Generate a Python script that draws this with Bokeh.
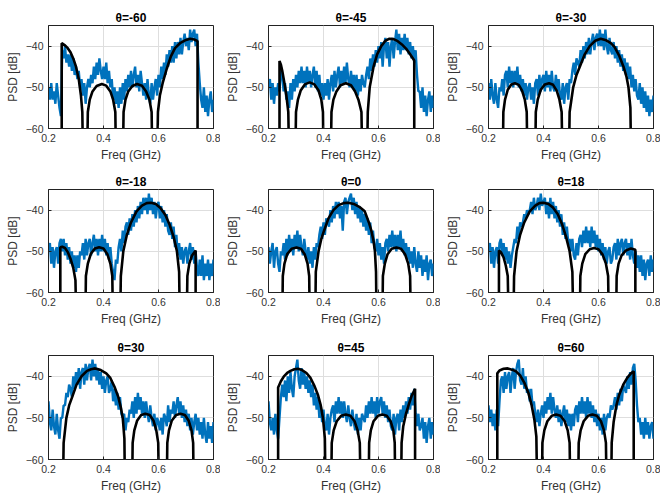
import numpy as np
from bokeh.plotting import figure
from bokeh.layouts import gridplot
from bokeh.models import Range1d, FixedTicker
from bokeh.embed import file_html
from bokeh.resources import INLINE

angles = ["-60", "-45", "-30", "-18", "0", "18", "30", "45", "60"]
x_ticks = [0.2, 0.4, 0.6, 0.8]
y_ticks = [-60, -50, -40]

# measured PSD sampled every 5 MHz from 0.2 to 0.8 GHz
meas_freq = np.round(np.linspace(0.2, 0.8, 121), 3)

meas_m60 = [-50, -53, -49, -53, -51, -54, -49, -52, -55, -57,
            -41, -43, -40, -44, -42, -45, -42, -46, -43, -47,
            -45, -48, -46, -50, -48, -52, -49, -54, -50, -48,
            -50, -47, -49, -45, -48, -44, -47, -43, -46, -48,
            -45, -48, -44, -49, -46, -50, -48, -53, -50, -54,
            -51, -55, -50, -54, -49, -53, -48, -51, -47, -50,
            -46, -50, -47, -45, -50, -47, -51, -46, -49, -52,
            -49, -53, -48, -52, -54, -49, -53, -50, -48, -52,
            -47, -50, -45, -48, -44, -47, -42, -45, -41, -44,
            -40, -44, -39, -43, -39, -42, -38, -42, -39, -37,
            -40, -38, -41, -36, -39, -37, -36, -40, -37, -44,
            -49, -53, -55, -50, -56, -52, -57, -53, -51, -56, -53]
meas_m45 = [-50, -48, -53, -49, -54, -50, -52, -49, -51, -46,
            -47, -51, -49, -53, -51, -55, -49, -53, -48, -51,
            -47, -50, -46, -49, -45, -49, -46, -50, -45, -49,
            -46, -50, -47, -45, -50, -46, -51, -47, -52, -49,
            -53, -49, -52, -48, -53, -49, -47, -51, -46, -50,
            -47, -45, -50, -46, -49, -45, -49, -44, -48, -50,
            -46, -50, -47, -51, -47, -52, -48, -51, -47, -49,
            -50, -47, -45, -48, -43, -46, -42, -45, -41, -44,
            -40, -43, -39, -45, -40, -38, -43, -39, -45, -40,
            -38, -43, -39, -36, -41, -37, -42, -38, -41, -37,
            -41, -38, -42, -39, -43, -40, -44, -41, -47, -51,
            -51, -55, -50, -56, -52, -57, -53, -51, -56, -52, -55]
meas_m30 = [-49, -53, -48, -52, -54, -49, -53, -55, -50, -51,
            -48, -52, -47, -46, -50, -45, -49, -46, -50, -46,
            -49, -45, -50, -47, -51, -48, -52, -49, -53, -50,
            -49, -53, -50, -54, -49, -48, -52, -47, -51, -48,
            -47, -51, -46, -50, -47, -51, -46, -50, -51, -47,
            -51, -48, -52, -53, -49, -54, -50, -49, -53, -48,
            -49, -46, -44, -47, -43, -44, -45, -41, -44, -40,
            -43, -39, -42, -38, -42, -39, -37, -41, -38, -37,
            -40, -36, -40, -37, -41, -36, -40, -42, -38, -41,
            -42, -39, -43, -40, -44, -41, -45, -42, -46, -43,
            -47, -44, -48, -45, -50, -47, -51, -48, -52, -53,
            -49, -54, -50, -55, -51, -56, -52, -57, -53, -56, -52]
meas_m18 = [-50, -48, -53, -49, -54, -50, -49, -53, -48, -47,
            -50, -47, -51, -48, -52, -49, -53, -50, -54, -51,
            -55, -51, -54, -50, -51, -48, -52, -47, -51, -48,
            -47, -51, -48, -46, -50, -47, -51, -47, -50, -46,
            -50, -47, -51, -48, -52, -49, -53, -55, -57, -52,
            -53, -49, -47, -50, -45, -48, -44, -43, -46, -42,
            -45, -41, -44, -40, -43, -39, -42, -38, -41, -37,
            -40, -37, -41, -36, -40, -37, -41, -38, -42, -39,
            -38, -42, -39, -43, -40, -44, -41, -45, -46, -43,
            -47, -44, -49, -46, -51, -48, -52, -49, -53, -50,
            -49, -53, -50, -48, -52, -49, -53, -50, -54, -56,
            -52, -56, -51, -57, -53, -56, -52, -57, -53, -56, -52]
meas_0 = [-49, -53, -50, -48, -54, -50, -49, -53, -55, -50,
          -51, -48, -52, -47, -51, -46, -50, -47, -51, -46,
          -49, -45, -50, -46, -49, -51, -47, -50, -52, -49,
          -53, -50, -54, -49, -52, -48, -49, -46, -44, -47,
          -43, -46, -42, -43, -44, -40, -43, -39, -42, -38,
          -41, -38, -42, -39, -45, -38, -37, -41, -38, -37,
          -36, -40, -37, -41, -38, -42, -39, -43, -40, -44,
          -41, -45, -42, -46, -43, -48, -45, -49, -50, -47,
          -51, -48, -52, -49, -53, -48, -47, -50, -46, -49,
          -45, -49, -46, -50, -46, -49, -45, -50, -47, -51,
          -48, -52, -49, -53, -50, -54, -49, -53, -55, -50,
          -54, -51, -56, -52, -55, -51, -57, -53, -52, -56, -53]
meas_18 = [-50, -48, -53, -49, -54, -50, -49, -53, -48, -47,
           -51, -48, -52, -49, -53, -50, -54, -51, -49, -47,
           -48, -44, -47, -43, -44, -43, -41, -42, -40, -41,
           -40, -38, -41, -37, -40, -39, -37, -40, -36, -39,
           -38, -37, -41, -38, -42, -37, -41, -38, -42, -39,
           -43, -40, -44, -41, -46, -43, -47, -44, -48, -47,
           -50, -47, -51, -52, -48, -51, -47, -46, -49, -45,
           -48, -44, -48, -45, -49, -44, -48, -45, -49, -46,
           -50, -47, -51, -48, -52, -49, -53, -50, -49, -53,
           -52, -49, -48, -52, -47, -51, -48, -47, -51, -48,
           -47, -51, -48, -52, -47, -51, -53, -50, -54, -51,
           -55, -51, -56, -52, -57, -53, -52, -56, -51, -55, -52]
meas_30 = [-46, -51, -53, -48, -52, -54, -49, -53, -55, -50,
           -50, -47, -47, -44, -45, -42, -43, -45, -40, -43,
           -39, -42, -38, -43, -39, -38, -42, -37, -41, -38,
           -37, -41, -36, -40, -37, -41, -38, -42, -39, -43,
           -40, -44, -41, -40, -44, -43, -41, -46, -43, -47,
           -44, -48, -45, -49, -50, -49, -53, -50, -51, -48,
           -49, -46, -50, -45, -49, -44, -48, -45, -49, -46,
           -50, -46, -49, -51, -47, -50, -52, -49, -53, -50,
           -51, -53, -50, -54, -49, -50, -52, -47, -51, -48,
           -49, -46, -50, -47, -45, -49, -46, -50, -47, -51,
           -48, -52, -49, -53, -50, -54, -51, -49, -53, -50,
           -54, -51, -55, -50, -54, -56, -51, -55, -52, -56, -51]
meas_45 = [-46, -51, -53, -50, -54, -49, -53, -55, -50, -45,
           -42, -45, -41, -46, -40, -44, -39, -43, -45, -40,
           -38, -36, -41, -43, -38, -42, -39, -43, -40, -44,
           -41, -45, -42, -47, -44, -48, -45, -50, -47, -51,
           -48, -52, -53, -49, -54, -50, -48, -47, -51, -46,
           -49, -45, -49, -46, -50, -46, -49, -51, -47, -50,
           -52, -48, -51, -53, -49, -54, -50, -53, -49, -50,
           -51, -47, -50, -46, -49, -45, -49, -46, -50, -45,
           -49, -46, -45, -49, -46, -50, -47, -51, -48, -52,
           -53, -49, -54, -50, -49, -53, -48, -51, -47, -50,
           -46, -49, -45, -48, -44, -47, -43, -49, -52, -49,
           -53, -52, -50, -55, -51, -56, -52, -50, -55, -51, -54]
meas_60 = [-47, -51, -48, -52, -49, -53, -48, -52, -46, -41,
           -40, -44, -39, -43, -40, -39, -44, -40, -38, -43,
           -39, -37, -36, -41, -42, -38, -43, -40, -44, -43,
           -46, -43, -47, -46, -49, -51, -48, -52, -49, -47,
           -50, -46, -49, -45, -48, -44, -49, -45, -48, -50,
           -47, -51, -48, -52, -49, -47, -51, -48, -52, -49,
           -53, -49, -52, -48, -47, -51, -46, -49, -45, -49,
           -46, -50, -45, -49, -46, -50, -47, -51, -48, -52,
           -49, -53, -50, -54, -49, -53, -50, -49, -50, -47,
           -48, -47, -45, -48, -44, -47, -43, -46, -42, -43,
           -44, -40, -43, -39, -42, -38, -37, -41, -47, -51,
           -50, -54, -51, -55, -50, -54, -51, -55, -52, -51, -55]

# theoretical PSD (freq GHz, dB); -80 marks a null below the axis
theo_m60 = [(0.248, -80), (0.248, -39.3), (0.26, -39.8), (0.27, -40.5), (0.28, -41.5), (0.29, -43),
            (0.30, -45), (0.31, -48), (0.318, -52), (0.323, -56), (0.328, -80),
            (0.338, -80), (0.343, -56), (0.35, -53), (0.36, -51), (0.375, -49.7), (0.394, -49.2),
            (0.41, -49.6), (0.425, -51), (0.435, -53), (0.443, -56), (0.448, -80),
            (0.468, -80), (0.473, -56), (0.48, -53), (0.49, -51), (0.505, -49.7), (0.522, -49.2),
            (0.54, -49.6), (0.555, -51), (0.567, -53), (0.575, -56), (0.58, -80),
            (0.592, -80), (0.598, -56), (0.605, -52), (0.615, -49), (0.63, -45.5), (0.645, -42.5),
            (0.66, -40.5), (0.68, -39.2), (0.70, -38.5), (0.715, -38.2), (0.73, -38.4),
            (0.742, -38.8), (0.742, -80)]
theo_m45 = [(0.24, -80), (0.24, -43.6), (0.245, -44.5), (0.25, -46), (0.258, -49), (0.265, -52),
            (0.272, -56), (0.278, -80),
            (0.295, -80), (0.30, -56), (0.307, -53), (0.317, -50.8), (0.332, -49.3), (0.35, -48.8),
            (0.367, -49.3), (0.382, -50.8), (0.392, -53), (0.398, -56), (0.402, -80),
            (0.424, -80), (0.429, -56), (0.436, -53), (0.447, -51), (0.462, -49.5), (0.481, -49),
            (0.50, -49.5), (0.515, -51), (0.527, -53), (0.538, -56), (0.544, -80),
            (0.556, -80), (0.561, -56), (0.568, -50), (0.582, -45), (0.595, -42), (0.61, -40),
            (0.625, -38.7), (0.64, -38.2), (0.655, -38.3), (0.67, -38.8), (0.685, -39.6),
            (0.70, -40.6), (0.715, -42), (0.73, -43.5), (0.73, -80)]
theo_m30 = [(0.25, -80), (0.254, -56), (0.26, -53), (0.27, -50.6), (0.283, -49.3), (0.296, -49),
            (0.31, -49.4), (0.322, -50.8), (0.332, -53), (0.339, -56), (0.344, -80),
            (0.368, -80), (0.372, -56), (0.379, -53), (0.39, -50.6), (0.405, -49.3), (0.42, -49),
            (0.435, -49.4), (0.448, -50.8), (0.458, -53), (0.466, -56), (0.472, -80),
            (0.49, -80), (0.495, -56), (0.508, -50), (0.52, -47), (0.532, -45), (0.55, -42),
            (0.568, -40), (0.588, -38.7), (0.608, -38.2), (0.628, -38.6), (0.645, -39.3),
            (0.658, -40.2), (0.675, -42.3), (0.692, -45.2), (0.702, -47.5), (0.709, -50),
            (0.716, -55), (0.721, -80)]
theo_m18 = [(0.243, -80), (0.243, -49), (0.25, -48.9), (0.26, -49.2), (0.27, -50.2), (0.28, -51.8),
            (0.29, -54), (0.298, -57), (0.305, -80),
            (0.332, -80), (0.336, -56), (0.343, -53), (0.354, -50.6), (0.369, -49.3), (0.384, -49),
            (0.40, -49.3), (0.414, -50.7), (0.425, -53), (0.432, -56), (0.437, -80),
            (0.458, -80), (0.463, -56), (0.472, -50), (0.485, -46), (0.50, -43), (0.52, -40.3),
            (0.54, -38.9), (0.557, -38.3), (0.573, -38.2), (0.59, -38.5), (0.607, -39.5),
            (0.625, -41.2), (0.64, -43.5), (0.655, -46.5), (0.667, -50), (0.675, -55), (0.68, -80),
            (0.70, -80), (0.705, -56), (0.712, -53), (0.722, -51), (0.735, -49.8), (0.735, -80)]
theo_0 = [(0.248, -80), (0.252, -56), (0.258, -53), (0.268, -50.7), (0.284, -49.4), (0.302, -49.1),
          (0.318, -49.4), (0.332, -50.8), (0.342, -53), (0.348, -56), (0.352, -80),
          (0.368, -80), (0.372, -55), (0.382, -50), (0.392, -47), (0.402, -45), (0.418, -42),
          (0.436, -40), (0.455, -38.8), (0.473, -38.3), (0.49, -38.2), (0.51, -38.5), (0.53, -39.2),
          (0.55, -40.3), (0.565, -43), (0.574, -45), (0.582, -47.5), (0.587, -50), (0.591, -55),
          (0.595, -80),
          (0.612, -80), (0.616, -56), (0.623, -53), (0.633, -50.7), (0.648, -49.4), (0.665, -49.1),
          (0.682, -49.4), (0.697, -50.8), (0.708, -53), (0.715, -56), (0.72, -80)]
theo_18 = [(0.238, -80), (0.238, -49.8), (0.245, -50.2), (0.255, -51.5), (0.263, -53.5), (0.27, -56),
           (0.277, -80),
           (0.288, -80), (0.293, -56), (0.302, -50), (0.315, -46), (0.33, -43), (0.35, -40.3),
           (0.37, -38.9), (0.385, -38.3), (0.40, -38.2), (0.418, -38.5), (0.435, -39.4), (0.452, -41),
           (0.468, -43.5), (0.482, -46.5), (0.495, -50), (0.505, -55), (0.512, -80),
           (0.53, -80), (0.534, -56), (0.541, -53), (0.552, -50.7), (0.568, -49.5), (0.584, -49.2),
           (0.60, -49.5), (0.615, -50.8), (0.627, -53), (0.635, -56), (0.64, -80),
           (0.662, -80), (0.666, -56), (0.673, -53), (0.684, -51), (0.70, -49.8), (0.718, -49.3),
           (0.734, -49.6), (0.734, -80)]
theo_30 = [(0.25, -80), (0.255, -56), (0.265, -50), (0.275, -47), (0.286, -45), (0.302, -42),
           (0.32, -40), (0.34, -38.7), (0.355, -38.3), (0.37, -38.1), (0.39, -38.5), (0.41, -39.3),
           (0.424, -40.3), (0.44, -42.5), (0.454, -45), (0.463, -47.5), (0.47, -50), (0.476, -55),
           (0.48, -80),
           (0.502, -80), (0.506, -56), (0.512, -53), (0.522, -50.7), (0.537, -49.3), (0.552, -49),
           (0.568, -49.3), (0.582, -50.7), (0.592, -53), (0.599, -56), (0.604, -80),
           (0.628, -80), (0.632, -56), (0.638, -53), (0.648, -50.7), (0.664, -49.3), (0.68, -49),
           (0.696, -49.3), (0.71, -50.7), (0.72, -53), (0.726, -56), (0.73, -80)]
theo_45 = [(0.235, -80), (0.235, -42.7), (0.245, -41.2), (0.256, -40), (0.268, -39.2), (0.28, -38.7),
           (0.294, -38.3), (0.307, -38.2), (0.322, -38.5), (0.338, -39.2), (0.352, -40.3),
           (0.367, -42.3), (0.38, -44.5), (0.39, -47), (0.398, -50), (0.405, -55), (0.41, -80),
           (0.426, -80), (0.43, -56), (0.437, -53), (0.448, -50.8), (0.464, -49.5), (0.481, -49.2),
           (0.498, -49.5), (0.513, -50.8), (0.524, -53), (0.532, -56), (0.538, -80),
           (0.562, -80), (0.566, -56), (0.572, -53), (0.582, -50.8), (0.598, -49.5), (0.614, -49.2),
           (0.63, -49.5), (0.644, -50.8), (0.654, -53), (0.659, -56), (0.663, -80),
           (0.68, -80), (0.684, -56), (0.69, -52), (0.70, -49), (0.71, -46.8), (0.72, -44.8),
           (0.733, -43), (0.733, -80)]
theo_60 = [(0.232, -80), (0.232, -39.3), (0.24, -38.6), (0.255, -38.2), (0.27, -38.1), (0.285, -38.4),
           (0.30, -38.8), (0.315, -39.8), (0.33, -41.5), (0.345, -44), (0.357, -47), (0.367, -50.5),
           (0.374, -54.5), (0.38, -80),
           (0.392, -80), (0.396, -56), (0.403, -53), (0.414, -50.8), (0.43, -49.5), (0.446, -49.2),
           (0.462, -49.5), (0.477, -50.8), (0.488, -53), (0.495, -56), (0.50, -80),
           (0.524, -80), (0.528, -56), (0.535, -53), (0.546, -50.8), (0.562, -49.5), (0.578, -49.2),
           (0.594, -49.5), (0.609, -50.8), (0.62, -53), (0.627, -56), (0.632, -80),
           (0.644, -80), (0.648, -56), (0.655, -51), (0.665, -47), (0.675, -44.5), (0.69, -42),
           (0.705, -40.3), (0.718, -39.3), (0.728, -38.8), (0.728, -80)]

measured = [meas_m60, meas_m45, meas_m30, meas_m18, meas_0, meas_18, meas_30, meas_45, meas_60]
theory = [theo_m60, theo_m45, theo_m30, theo_m18, theo_0, theo_18, theo_30, theo_45, theo_60]

FONT = "Liberation Sans"
heights = [164, 164, 170]
tops = [25, 25, 27]
FRAME_H = 104

rows = []
for r in range(3):
    row = []
    for c in range(3):
        k = r * 3 + c
        H = heights[r]
        p = figure(width=220, height=H, output_backend="svg", toolbar_location=None,
                   x_range=Range1d(0.2, 0.8), y_range=Range1d(-60, -35),
                   min_border_left=48, min_border_right=7,
                   min_border_top=tops[r], min_border_bottom=H - tops[r] - FRAME_H,
                   title="\u03b8=" + angles[k])
        p.title.align = "center"
        p.title.text_font = FONT
        p.title.text_font_size = "12px"
        p.title.text_font_style = "bold"
        p.title.text_color = "#000000"
        p.title.standoff = 2
        p.line(meas_freq, measured[k], line_color="#0072BD", line_width=2.4)
        tf = [t[0] for t in theory[k]]
        td = [t[1] for t in theory[k]]
        p.line(tf, td, line_color="#000000", line_width=2.6)
        p.xaxis.ticker = FixedTicker(ticks=x_ticks)
        p.yaxis.ticker = FixedTicker(ticks=y_ticks)
        p.xaxis.axis_label = "Freq (GHz)"
        p.yaxis.axis_label = "PSD [dB]"
        for ax in (p.xaxis[0], p.yaxis[0]):
            ax.axis_label_text_font = FONT
            ax.axis_label_text_font_size = "12px"
            ax.axis_label_text_font_style = "normal"
            ax.axis_label_text_color = "#333333"
            ax.major_label_text_font = FONT
            ax.major_label_text_font_size = "10.5px"
            ax.major_label_text_color = "#333333"
            ax.major_tick_in = 3
            ax.major_tick_out = 0
            ax.minor_tick_in = 0
            ax.minor_tick_out = 0
            ax.axis_line_color = "#222222"
            ax.major_tick_line_color = "#222222"
        p.xaxis.major_label_standoff = 5
        p.xaxis.axis_label_standoff = 3
        p.yaxis.major_label_standoff = 5
        p.yaxis.axis_label_standoff = 3
        p.xgrid.grid_line_color = "#dedede"
        p.ygrid.grid_line_color = "#dedede"
        p.outline_line_color = "#222222"
        p.outline_line_alpha = 1.0
        row.append(p)
    rows.append(row)

grid = gridplot(rows, toolbar_location=None)
open("out.html", "w").write(file_html(grid, INLINE))
